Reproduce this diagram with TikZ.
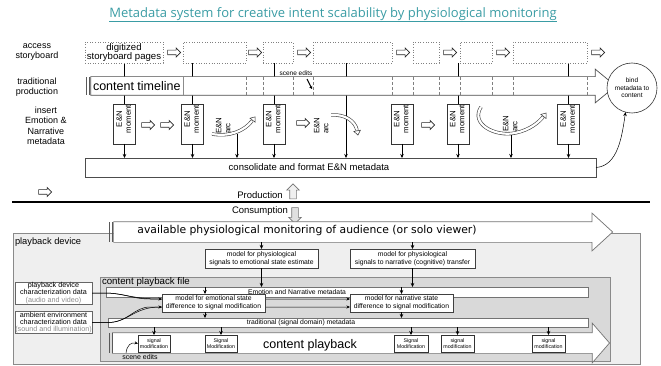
\documentclass[tikz,border=0pt]{standalone}
\usepackage{fontspec}
\usepackage{graphicx}
\setmainfont{Liberation Sans}
\newfontfamily\titlefont{Open Sans}
\newfontfamily\monfont{DejaVu Sans}
\usetikzlibrary{shapes.arrows,arrows.meta,calc,shadows,backgrounds}
\definecolor{titleteal}{HTML}{3A9CA4}
\definecolor{devfill}{HTML}{EFEFEF}
\definecolor{filefill}{HTML}{D9D9D9}
\definecolor{rim}{HTML}{8A8A8A}
\newcommand\fsz[2]{\fontsize{#1pt}{#2pt}\selectfont}
% two lines of text turned to read upwards, centred / left aligned
\newcommand\vpair[3][0pt]{\rotatebox{90}{\hspace*{#1}\begin{tabular}{@{}c@{}}#2\\#3\end{tabular}}}
\newcommand\varc[2]{\rotatebox{90}{\begin{tabular}{@{}l@{}}#1\\#2\end{tabular}}}
\begin{document}
\begin{tikzpicture}[x=1pt,y=-1pt,
  every node/.style={inner sep=0pt,outer sep=0pt},
  lbl/.style={align=center,font=\fsz{9}{10.5}},
  sbbox/.style={draw=black!50,dotted,line width=.6pt,fill=white,minimum height=21pt,align=center,font=\fsz{9.6}{9.6}},
  hollow/.style={single arrow,draw=black!85,fill=white,line width=.6pt,inner xsep=0pt,inner ysep=2pt,minimum height=13pt,single arrow head extend=2.3pt,single arrow tip angle=90},
  enbox/.style={draw=black!80,fill=white,minimum width=22pt,minimum height=40pt,font=\fsz{7.8}{9}},
  arctext/.style={font=\fsz{7.8}{9},anchor=south},
  drop/.style={-{Stealth[length=4pt,width=3.5pt]},line width=.5pt},
  bigarrow/.style={single arrow,draw=black!55,fill=white,line width=.7pt,inner xsep=0pt},
  band/.style={line width=3.4pt,black!75},
  bandcore/.style={line width=2.2pt,white},
  bandtip/.style={-{Triangle[open,fill=white,length=5pt,width=7.5pt]},line width=.5pt,black!80},
  model/.style={draw=black!75,fill=white,align=center,font=\fsz{6.8}{7.8},drop shadow={shadow xshift=1.2pt,shadow yshift=-1.2pt,opacity=.5}},
  sigbox/.style={draw=black!80,fill=white,align=center,font=\fsz{5.3}{6},drop shadow={shadow xshift=1pt,shadow yshift=-1pt,opacity=.5}},
  metabar/.style={draw=black!55,fill=white,line width=.5pt},
  charbox/.style={draw=black!60,fill=white,align=center,font=\fsz{7.2}{7.2},minimum width=77pt,minimum height=22pt},
  feed/.style={-{Stealth[length=3.5pt,width=3pt]},line width=.5pt},
  dbar/.style={line width=1.4pt,black!65},
  divider/.style={densely dashed,black!50,line width=.4pt},
]
\useasboundingbox (0,0) rectangle (661,366);

% ---------- title ----------
\node[font={\titlefont\fsz{13}{15}},text=titleteal] (title) at (333,14)
  {Metadata system for creative intent scalability by physiological monitoring};
\draw[titleteal,line width=.6pt] ($(title.south west)+(0,1)$) -- ($(title.south east)+(0,1)$);

% ---------- row labels ----------
\node[lbl] (lab1) at (37,52) {access\\storyboard};
\node[lbl] (lab2) at (37,87) {traditional\\production};
\node[lbl] (lab3) at (46,126) {insert\\Emotion \&\\Narrative\\metadata};

% ---------- storyboard row ----------
\node[sbbox,minimum width=78pt] (b1) at (124,52.5) {digitized\\storyboard pages};
\node[sbbox,minimum width=63pt] (b2) at (214.5,52.5) {};
\node[sbbox,minimum width=30pt] (b3) at (278,52.5) {};
\node[sbbox,minimum width=79pt] (b4) at (352.5,52.5) {};
\node[sbbox,minimum width=26pt] (b5) at (426,52.5) {};
\node[sbbox,minimum width=32pt] (b6) at (476,52.5) {};
\node[sbbox,minimum width=74pt] (b7) at (550,52.5) {};
\node[hollow] (h1) at (173,52.5) {};
\node[hollow] (h2) at (254,52.5) {};
\node[hollow] (h3) at (303,52.5) {};
\node[hollow] (h4) at (402,52.5) {};
\node[hollow] (h5) at (449,52.5) {};
\node[hollow] (h6) at (502,52.5) {};
\node[hollow] (h7) at (597,52.5) {};

% ---------- content timeline ----------
\node[bigarrow,draw=black!70,inner ysep=9pt,minimum height=525pt,
      single arrow head extend=7.5pt,single arrow tip angle=79] (timeline) at (347.5,86) {};
\draw[black!45,line width=.5pt] (183,77) -- (183,95);
\foreach \x in {246,263,293,313,392,413,439,460,492,513,587}
  \draw[divider] (\x,77) -- (\x,95);
\draw[dbar] (86.6,77.4) -- (86.6,94.6);
\draw[dbar] (89.4,77.4) -- (89.4,94.6);
\node[anchor=west,font=\fsz{12.5}{13}] (tltext) at (93,86) {content timeline};
\node[font=\fsz{6.5}{7}] (scn1) at (296,73) {scene edits};
\coordinate (scn1tip) at (312,89);
\draw[-{Stealth[length=3pt,width=3.5pt]},line width=1pt] (307,79) -- (scn1tip);

% ---------- emotion & narrative row ----------
\node[enbox] (m1) at (124.5,124) {\vpair[10pt]{E\&N}{moment}};
\node[enbox] (m2) at (192.5,124) {\vpair[10pt]{E\&N}{moment}};
\node[enbox] (m3) at (274,124) {\vpair[10pt]{E\&N}{moment}};
\node[enbox] (m4) at (402,124) {\vpair[10pt]{E\&N}{moment}};
\node[enbox] (m5) at (458,124) {\vpair[10pt]{E\&N}{moment}};
\node[enbox] (m6) at (568.5,124) {\vpair[10pt]{E\&N}{moment}};
\node[arctext] (a1) at (224,134) {\varc{E\&N}{arc}};
\node[arctext] (a2) at (322,134) {\varc{E\&N}{arc}};
\node[arctext] (a3) at (511,132) {\varc{E\&N}{arc}};
\node[hollow] (e1) at (147,125) {};
\node[hollow] (e2) at (166,125) {};
\node[hollow] (e3) at (302,123) {};
\node[hollow] (e4) at (427,125) {};

% arc 1: rising curved band
\draw[band] (212,134) .. controls (230,137) and (244,131) .. (252,121);
\draw[bandcore] (212,134) .. controls (230,137) and (244,131) .. (252,121);
\draw[bandtip] (252,121) -- (255.5,116.5);
% arc 2: falling curved band
\draw[band] (331,115) .. controls (345,114) and (355,121) .. (357,130);
\draw[bandcore] (331,115) .. controls (345,114) and (355,121) .. (357,130);
\draw[bandtip] (357,130) -- (358,135.5);
% arc 3: dip and rise
\draw[band] (481,107) .. controls (470,124) and (495,137) .. (515,133) .. controls (530,130) and (539,122) .. (543,117);
\draw[bandcore] (481,107) .. controls (470,124) and (495,137) .. (515,133) .. controls (530,130) and (539,122) .. (543,117);
\draw[bandtip] (543,117) -- (546.4,112.7);
\coordinate (arc1foot) at (237,134.5);
\coordinate (arc3foot) at (511,135);

% ---------- consolidation ----------
\node[draw=black!70,fill=white,minimum width=511pt,minimum height=19pt,line width=.6pt] (cons) at (340.5,167.5) {};
\node[font=\fsz{9.5}{10}] (constext) at (309,167.5) {consolidate and format E\&N metadata};
\foreach \m in {m1,m2,m3,m4,m5,m6}
  \draw[drop] (\m.south) -- (\m.south |- cons.north);
\draw[drop] (arc1foot) -- (arc1foot |- cons.north);
\draw[drop] (arc3foot) -- (arc3foot |- cons.north);

\node[circle,draw=black!80,line width=.6pt,fill=white,minimum size=50pt,align=center,font=\fsz{6.5}{7.5}] (bind) at (632,88) {bind\\metadata to\\content};
\draw[-{Stealth[length=4pt,width=3.5pt]},line width=.5pt] (cons.east) .. controls (618,166) and (622,136) .. (bind.255);

% storyboard drops, running beneath the timeline
\coordinate (b4tap) at (346,63);
\begin{pgfonlayer}{background}
  \draw[line width=.6pt] (m1 |- b1.south) -- (m1.north);
  \draw[line width=.6pt] (m2 |- b2.south) -- (m2.north);
  \draw[line width=.6pt] (m3 |- b3.south) -- (m3.north);
  \draw[line width=.6pt] (m5 |- b6.south) -- (m5.north);
  \draw[line width=.6pt] (m6 |- b7.south) -- (m6.north);
  \draw[drop,line width=.6pt] (b4tap) -- (b4tap |- cons.north);
\end{pgfonlayer}

% ---------- production / consumption divide ----------
\node[hollow] (lefthollow) at (44,192) {};
\draw[line width=2.2pt] (12,202) -- (650,202);
\node[font=\fsz{9.5}{10}] (prod) at (260,195.5) {Production};
\node[single arrow,rotate=90,draw=black!55,fill=black!6,line width=.6pt,inner xsep=0pt,inner ysep=3pt,minimum height=15pt,single arrow head extend=3pt,single arrow tip angle=90] (uparr) at (293,193) {};
\node[font=\fsz{9.5}{10}] (cons2) at (260,211) {Consumption};
\node[single arrow,rotate=-90,draw=black!55,fill=black!12,line width=.6pt,inner xsep=0pt,inner ysep=3pt,minimum height=16pt,single arrow head extend=3pt,single arrow tip angle=90] (dnarr) at (295,214) {};

% ---------- playback device ----------
\node[draw=rim,fill=devfill,line width=.7pt,minimum width=627pt,minimum height=131pt] (device) at (326.5,298.5) {};
\node[anchor=west,font=\fsz{9.3}{10}] (devlbl) at (15,242) {playback device};

\node[bigarrow,inner ysep=10pt,minimum height=499pt,single arrow head extend=8.5pt,single arrow tip angle=85] (monitor) at (357.5,232) {};
\draw[dbar] (109.6,222.4) -- (109.6,241.6);
\draw[dbar] (112.4,222.4) -- (112.4,241.6);
\node[font={\monfont\fsz{10.8}{12}}] (montext) at (307,231) {available physiological monitoring of audience (or solo viewer)};
\coordinate (monbase) at (0,242);

\node[model,minimum width=113pt,minimum height=19pt] (model1) at (261.5,258.5) {model for physiological\\signals to emotional state estimate};
\node[model,minimum width=125pt,minimum height=19pt] (model2) at (412.5,258.5) {model for physiological\\signals to narrative (cognitive) transfer};
\draw[drop] (model1 |- monbase) -- (model1.north);
\draw[drop] (model2 |- monbase) -- (model2.north);

% ---------- content playback file ----------
\node[draw=rim,fill=filefill,line width=.7pt,minimum width=510pt,minimum height=84pt] (cfile) at (355,319) {};
\node[anchor=west,font=\fsz{9.7}{10}] (cfilelbl) at (102,282) {content playback file};

\node[metabar,minimum width=482pt,minimum height=10pt] (enbar) at (347,292) {};
\node[font=\fsz{6.8}{7}] (enbartext) at (297,292) {Emotion and Narrative metadata};
\draw[drop] (model1.south) -- (model1.south |- enbar.north);
\draw[drop] (model2.south) -- (model2.south |- enbar.north);

\node[metabar,minimum width=480pt,minimum height=9pt] (tradbar) at (348,322.5) {};
\node[font=\fsz{6.8}{7}] (tradtext) at (301,322.5) {traditional (signal domain) metadata};

\node[charbox] (pd) at (53.5,293) {playback device\\characterization data\\{\color{black!45}(audio and video)}};
\node[charbox] (amb) at (53.5,322.5) {ambient environment\\characterization data\\{\color{black!45}(sound and illumination)}};
\coordinate (m3in1) at (162,299);
\coordinate (m3in2) at (162,307);
\coordinate (m4in1) at (350,299);
\coordinate (m4in2) at (350,307);
\draw[feed] (pd.east) -- (104,293) .. controls (124,293) and (132,299) .. (m3in1);
\draw[feed] (pd.east) -- (104,293) .. controls (124,293) and (132,299) .. (150,299) -- (m4in1);
\draw[feed] (amb.east) -- (108,322.5) .. controls (128,322.5) and (134,307) .. (m3in2);
\draw[feed] (amb.east) -- (108,322.5) .. controls (128,322.5) and (134,307) .. (150,307) -- (m4in2);

\node[model,minimum width=103pt,minimum height=18pt] (model3) at (213.5,303) {model for emotional state\\difference to signal modification};
\node[model,minimum width=103pt,minimum height=18pt] (model4) at (401.5,303) {model for narrative state\\difference to signal modification};
\coordinate (m3tap) at ($(model3.north)+(-8.5,0)$);
\coordinate (m3out) at ($(model3.south)+(-8.5,0)$);
\draw[drop] (m3tap |- enbar.north) -- (m3tap);
\draw[drop] (model4.north |- enbar.north) -- (model4.north);
\draw[drop] (m3out) -- (m3out |- tradbar.north);
\draw[drop] (model4.south) -- (model4.south |- tradbar.north);

% ---------- content playback ----------
\node[bigarrow,inner ysep=10pt,minimum height=497pt,single arrow head extend=9.5pt,single arrow tip angle=98] (playback) at (356.5,343) {};
\draw[dbar] (109.6,333.4) -- (109.6,352.6);
\draw[dbar] (112.4,333.4) -- (112.4,352.6);
\node[font=\fsz{12.5}{13}] (pbtext) at (310,345) {content playback};

\node[sigbox,minimum width=32pt,minimum height=17pt] (s1) at (154,343.5) {signal\\modification};
\node[sigbox,minimum width=32pt,minimum height=17pt] (s2) at (221,343.5) {Signal\\Modification};
\node[sigbox,minimum width=34pt,minimum height=17pt] (s3) at (411,343.5) {Signal\\Modification};
\node[sigbox,minimum width=33pt,minimum height=17pt] (s4) at (457.5,343.5) {signal\\modification};
\node[sigbox,minimum width=33pt,minimum height=17pt] (s5) at (548.5,343.5) {signal\\modification};
\foreach \s in {s1,s2,s3,s4,s5}
  \draw[drop] (\s |- tradbar.south) -- (\s.north);

\node[font=\fsz{7}{7}] (scn2) at (140,357) {scene edits};
\coordinate (scn2foot) at (126,353);
\draw[feed] (scn2foot) .. controls (127,345) and (131,342) .. (s1.west);
\end{tikzpicture}
\end{document}
